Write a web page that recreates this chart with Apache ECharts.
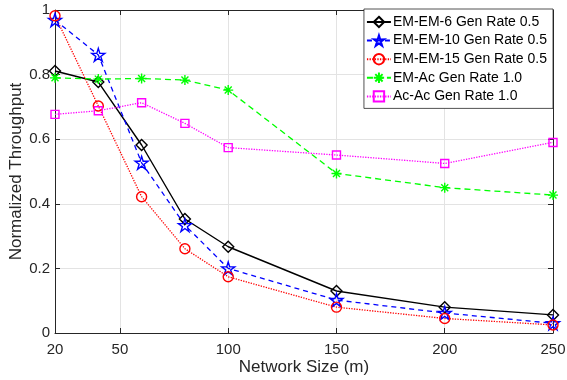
<!DOCTYPE html>
<html><head><meta charset="utf-8">
<script src="https://cdn.jsdelivr.net/npm/echarts@6/dist/echarts.min.js"></script>
<style>html,body{margin:0;padding:0;background:#fff}#c{width:567px;height:380px}</style>
</head><body><div id="c"></div>
<script>
const xValues = [20, 40, 60, 80, 100, 150, 200, 250];
const xTicks = [20, 50, 100, 150, 200, 250];
const yTicks = [0, 0.2, 0.4, 0.6, 0.8, 1];
const seriesNames = ['EM-EM-6 Gen Rate 0.5', 'EM-EM-10 Gen Rate 0.5', 'EM-EM-15 Gen Rate 0.5', 'EM-Ac Gen Rate 1.0', 'Ac-Ac Gen Rate 1.0'];
const emEm6 = [0.811, 0.777, 0.582, 0.353, 0.267, 0.130, 0.080, 0.056];
const emEm10 = [0.969, 0.861, 0.527, 0.334, 0.200, 0.102, 0.062, 0.030];
const emEm15 = [0.982, 0.703, 0.422, 0.261, 0.174, 0.080, 0.045, 0.025];
const emAc = [0.790, 0.786, 0.788, 0.783, 0.752, 0.494, 0.450, 0.427];
const acAc = [0.677, 0.688, 0.713, 0.649, 0.574, 0.551, 0.525, 0.590];

const starPath = 'path://M0,-1L0.223,-0.307L0.951,-0.309L0.361,0.117L0.588,0.809L0,0.38L-0.588,0.809L-0.361,0.117L-0.951,-0.309L-0.223,-0.307Z';
const asteriskPath = 'path://M0,-1L0,1M-1,0L1,0M-0.7,-0.7L0.7,0.7M-0.7,0.7L0.7,-0.7';
const FONT = '"Liberation Sans", Arial, Helvetica, sans-serif';
const AX = '#262626';

function pairs(arr){ return xValues.map((x,i)=>[x, arr[i]]); }
function mk(name, data, color, lineType, symbol, size, lw){
  return {
    name, type:'line', data: pairs(data), symbol, symbolSize: size,
    lineStyle:{color, width:lw || 1.3, type: lineType},
    itemStyle:{color:'rgba(255,255,255,0)', borderColor:color, borderWidth:1.4},
    emphasis:{disabled:true}, animation:false, z:3
  };
}
const chart = echarts.init(document.getElementById('c'), null, {renderer:'canvas'});
const baseX = {type:'value', min:20, max:250,
  axisLine:{show:true, onZero:false, lineStyle:{color:AX, width:1}},
  axisTick:{show:true, inside:true, length:5, customValues: xTicks, lineStyle:{color:AX}},
  splitLine:{show:false}};
const baseY = {type:'value', min:0, max:1, interval:0.2,
  axisLine:{show:true, onZero:false, lineStyle:{color:AX, width:1}},
  axisTick:{show:true, inside:true, length:5, lineStyle:{color:AX}},
  splitLine:{show:false}};
chart.setOption({
  backgroundColor:'#fff',
  textStyle:{fontFamily:FONT},
  grid:{left:55, right:14, top:10, bottom:47, containLabel:false, outerBoundsMode:'none'},
  xAxis:[
    Object.assign({}, baseX, {position:'bottom',
      name:'Network Size (m)', nameLocation:'middle', nameGap:26, nameMoveOverlap:false,
      nameTextStyle:{fontFamily:FONT, fontSize:17, color:AX},
      axisLabel:{show:true, customValues:xTicks, fontFamily:FONT, fontSize:15, color:AX, margin:9},
      splitLine:{show:true, lineStyle:{color:'#e3e3e3', width:1}}}),
    Object.assign({}, baseX, {position:'top', axisLabel:{show:false}})
  ],
  yAxis:[
    Object.assign({}, baseY, {position:'left',
      name:'Normalized Throughput', nameLocation:'middle', nameGap:30, nameMoveOverlap:false,
      nameTextStyle:{fontFamily:FONT, fontSize:17, color:AX},
      axisLabel:{show:true, fontFamily:FONT, fontSize:15, color:AX, margin:5,
        formatter:v=>String(+v.toFixed(1))},
      splitLine:{show:true, lineStyle:{color:'#e3e3e3', width:1}}}),
    Object.assign({}, baseY, {position:'right', axisLabel:{show:false}})
  ],
  legend:{
    orient:'vertical', right:14, top:9, data: seriesNames,
    backgroundColor:'#fff', borderColor:AX, borderWidth:0.8,
    padding:[6, 6, 5, 2], itemGap:4.6, itemWidth:24, itemHeight:13,
    textStyle:{fontFamily:FONT, fontSize:14, color:'#000', padding:[0,0,0,-3]},
    selectedMode:false
  },
  series:[
    mk(seriesNames[0], emEm6, '#000000', 'solid', 'diamond', 11, 1.4),
    mk(seriesNames[1], emEm10, '#0000ff', [5,4], starPath, 13),
    mk(seriesNames[2], emEm15, '#ff0000', [1.3,1.3], 'circle', 10),
    mk(seriesNames[3], emAc, '#00ff00', [6,4], asteriskPath, 10),
    mk(seriesNames[4], acAc, '#ff00ff', [1.3,1.3], 'rect', 8)
  ]
});
</script></body></html>
